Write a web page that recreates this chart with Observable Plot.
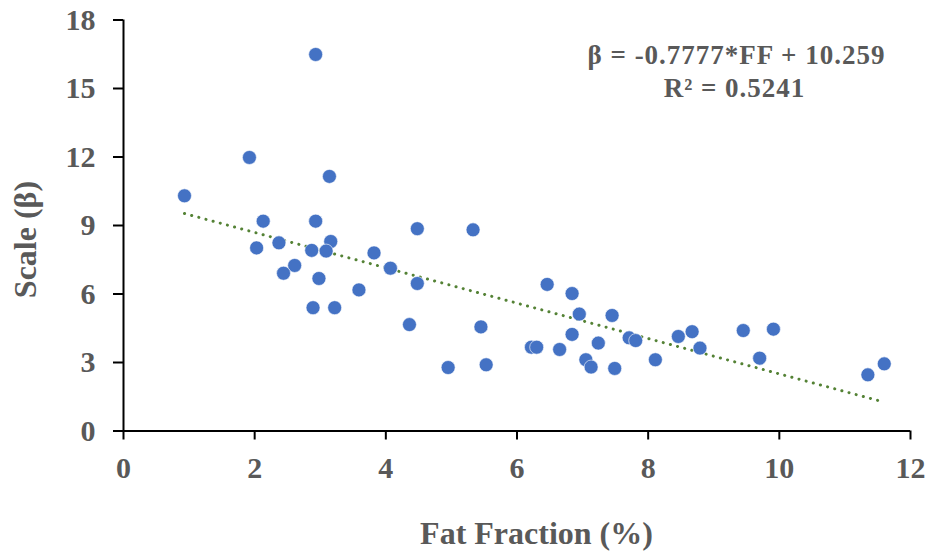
<!DOCTYPE html>
<html>
<head>
<meta charset="utf-8">
<script src="https://cdn.jsdelivr.net/npm/d3@7"></script>
<script src="https://cdn.jsdelivr.net/npm/@observablehq/plot@0.6"></script>
<style>
  html, body { margin: 0; padding: 0; background: #fff; }
</style>
</head>
<body>
<div id="chart"></div>
<script>
const fatFraction = [2.93, 1.92, 3.14, 0.93, 2.13, 2.93, 4.48, 5.33,
  2.03, 2.37, 3.16, 2.87, 3.09, 3.82, 4.07, 2.61, 2.44, 2.98, 4.48, 3.59,
  2.89, 3.22, 4.36, 5.45, 4.95, 5.53,
  6.46, 6.84, 6.95, 7.45, 6.84, 7.24, 7.71, 7.81, 8.46, 8.67, 8.79, 9.45,
  9.91, 9.70, 8.11, 6.22, 6.30, 6.65, 7.05, 7.13, 7.49, 11.35, 11.60];
const scaleBeta = [16.49, 11.98, 11.15, 10.30, 9.19, 9.19, 8.86, 8.81,
  8.02, 8.24, 8.30, 7.91, 7.88, 7.80, 7.13, 7.25, 6.91, 6.68, 6.46, 6.18,
  5.40, 5.40, 4.66, 4.56, 2.78, 2.90,
  6.42, 6.02, 5.12, 5.06, 4.23, 3.85, 4.08, 3.96, 4.14, 4.35, 3.63, 4.40,
  4.46, 3.19, 3.12, 3.67, 3.67, 3.57, 3.12, 2.80, 2.74, 2.46, 2.94];
const xTicks = [0, 2, 4, 6, 8, 10, 12];
const yTicks = [0, 3, 6, 9, 12, 15, 18];
const equationLines = ["β = -0.7777*FF + 10.259", "R² = 0.5241"];
const xTitle = "Fat Fraction (%)";
const yTitle = "Scale (β)";

const data = fatFraction.map((x, i) => ({x, y: scaleBeta[i]}));

const font = "'Liberation Serif', 'Times New Roman', serif";
const grey = "#595959";

const chart = Plot.plot({
  width: 932,
  height: 559,
  marginLeft: 123,
  marginRight: 22,
  marginTop: 19.5,
  marginBottom: 128.5,
  style: {fontFamily: font, background: "#fff"},
  x: {domain: [0, 12]},
  y: {domain: [0, 18]},
  marks: [
    Plot.axisX({ticks: xTicks, tickSize: 9, tickPadding: 17, strokeWidth: 2, stroke: "#000",
      fill: grey, fontSize: 30, fontWeight: "bold", label: null}),
    Plot.axisY({ticks: yTicks, tickSize: 10, tickPadding: 18, strokeWidth: 2, stroke: "#000",
      fill: grey, fontSize: 30, fontWeight: "bold", label: null}),
    Plot.ruleY([0], {stroke: "#000", strokeWidth: 2}),
    Plot.ruleX([0], {stroke: "#000", strokeWidth: 2}),
    Plot.linearRegressionY(data, {x: "x", y: "y", ci: 0, stroke: "#548235",
      strokeWidth: 3, strokeDasharray: "0.1,7.3", strokeLinecap: "round"}),
    Plot.dot(data, {x: "x", y: "y", r: 7, fill: "#4472C4", stroke: "#fff", strokeWidth: 0.6}),
    Plot.text([equationLines[0]], {frameAnchor: "top-right", dx: -174, dy: 35,
      textAnchor: "middle", lineAnchor: "middle", fontSize: 27, fontWeight: "bold", fill: grey}),
    Plot.text([equationLines[1]], {frameAnchor: "top-right", dx: -176, dy: 68.5,
      textAnchor: "middle", lineAnchor: "middle", fontSize: 27, fontWeight: "bold", fill: grey}),
    Plot.text([xTitle], {frameAnchor: "bottom", dx: 19.5, dy: 102.5, textAnchor: "middle",
      lineAnchor: "middle", fontSize: 32, fontWeight: "bold", fill: grey}),
    Plot.text([yTitle], {frameAnchor: "left", dx: -98, dy: 14, rotate: -90, textAnchor: "middle",
      lineAnchor: "middle", fontSize: 32, fontWeight: "bold", fill: grey})
  ]
});
d3.select(chart).selectAll("text")
  .filter(function () { return equationLines.includes(this.textContent); })
  .style("letter-spacing", "1px");
document.getElementById("chart").appendChild(chart);
</script>
</body>
</html>
